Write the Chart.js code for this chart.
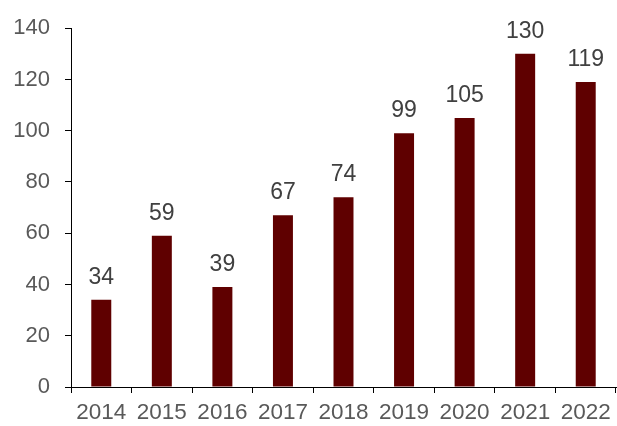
<!DOCTYPE html>
<html>
<head>
<meta charset="utf-8">
<script src="https://cdn.jsdelivr.net/npm/chart.js@4/dist/chart.umd.min.js"></script>
<style>
  html, body { margin: 0; padding: 0; background: #fff; }
  #wrap { width: 617px; height: 426px; }
</style>
</head>
<body>
<div id="wrap"><canvas id="yearChart"></canvas></div>
<script>
const years = ['2014', '2015', '2016', '2017', '2018', '2019', '2020', '2021', '2022'];
const counts = [34, 59, 39, 67, 74, 99, 105, 130, 119];
const yTicks = [0, 20, 40, 60, 80, 100, 120, 140];

const barColor = '#5f0000';
const font = 'Liberation Sans, Arial, sans-serif';

// numbers above each bar
const valueLabels = {
    id: 'valueLabels',
    afterDatasetsDraw(chart) {
        const ctx = chart.ctx;
        const meta = chart.getDatasetMeta(0);
        ctx.save();
        ctx.font = '23px ' + font;
        ctx.fillStyle = '#404040';
        ctx.textAlign = 'center';
        ctx.textBaseline = 'alphabetic';
        meta.data.forEach((bar, i) => {
            ctx.fillText(String(counts[i]), bar.x, bar.y - 16);
        });
        ctx.restore();
    }
};

document.addEventListener('DOMContentLoaded', () => {
    const ctx = document.getElementById('yearChart').getContext('2d');
    new Chart(ctx, {
        type: 'bar',
        data: {
            labels: years,
            datasets: [{
                data: counts,
                backgroundColor: barColor,
                borderWidth: 0,
                categoryPercentage: 1,
                barPercentage: 0.33
            }]
        },
        options: {
            responsive: true,
            maintainAspectRatio: false,
            animation: false,
            layout: { padding: { top: 26, right: 1, left: 0, bottom: 0 } },
            plugins: {
                legend: { display: false },
                tooltip: { enabled: false }
            },
            scales: {
                x: {
                    offset: true,
                    grid: {
                        offset: true,
                        drawOnChartArea: false,
                        tickLength: 6,
                        color: '#000'
                    },
                    border: { color: '#000', width: 1 },
                    ticks: {
                        color: '#595959',
                        font: { family: font, size: 22.5 },
                        padding: 6,
                        maxRotation: 0,
                        autoSkip: false
                    },
                    afterFit(scale) { scale.height = 39; }
                },
                y: {
                    min: 0,
                    max: 140,
                    afterBuildTicks(scale) {
                        scale.ticks = yTicks.map(v => ({ value: v }));
                    },
                    grid: {
                        drawOnChartArea: false,
                        tickLength: 6,
                        color: '#000'
                    },
                    border: { color: '#000', width: 1 },
                    ticks: {
                        color: '#595959',
                        font: { family: font, size: 22 },
                        padding: 15
                    },
                    afterFit(scale) { scale.width = 71; }
                }
            }
        },
        plugins: [valueLabels]
    });
});
</script>
</body>
</html>
